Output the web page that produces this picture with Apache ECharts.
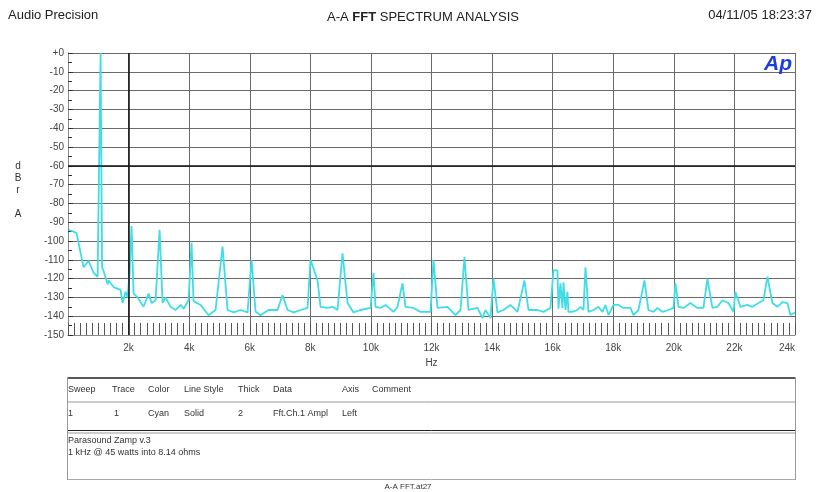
<!DOCTYPE html>
<html>
<head>
<meta charset="utf-8">
<script src="https://cdn.jsdelivr.net/npm/echarts@6/dist/echarts.min.js"></script>
<style>
html,body{margin:0;padding:0;background:#fff;}
#chart{width:817px;height:492px;}
</style>
</head>
<body>
<div id="chart"></div>
<script>
// ---- data ----
const freqHz = [20,185,284,515,680,845,977,1026,1076,1125,1175,1307,1340,1505,1736,1802,1901,1967,2033,2099,2165,2297,2495,2660,2759,2891,3023,3122,3221,3386,3551,3716,3815,3980,4079,4145,4376,4640,4871,5102,5267,5465,5696,5927,6059,6191,6356,6620,6917,7082,7248,7446,7677,7908,8007,8073,8238,8337,8568,8733,8898,9063,9228,9294,9426,9657,9987,10086,10152,10317,10482,10746,10878,11043,11142,11406,11637,11967,12066,12198,12528,12792,12957,13089,13221,13518,13683,13782,13947,14046,14178,14376,14607,14838,15069,15201,15498,15696,15927,16026,16158,16191,16257,16323,16356,16422,16488,16521,16653,16818,16917,17017,17083,17182,17347,17512,17644,17743,17842,18007,18172,18337,18568,18667,18832,19030,19162,19327,19459,19624,19822,19987,20053,20152,20317,20548,20779,20977,21109,21274,21439,21604,21802,21967,22033,22198,22429,22594,22792,22957,23089,23254,23419,23584,23749,23848,24000];
const levelDb = [-94,-95,-96,-114,-110.5,-117,-119,-118,0,-114,-116,-123,-121,-124.5,-126,-133,-127,-130,-117,-92,-128,-130,-135,-128,-133,-131.5,-94,-133,-130,-135,-136.7,-134,-136,-131.5,-101,-132,-134,-139.5,-136.7,-103,-136.7,-138,-136.7,-138,-110,-137.5,-139.5,-136.7,-136.7,-128.7,-136.7,-138,-136.7,-135.6,-110,-111,-121,-135,-135.6,-135,-136.7,-106.5,-133,-132.5,-138,-136.7,-135.6,-117,-135,-135.6,-134,-137.7,-135,-122.5,-135,-135.6,-137.7,-137.7,-110,-135.6,-135,-139.4,-136.7,-108.6,-136.7,-135.6,-141,-136.7,-141,-120,-138,-136.7,-134,-137.7,-121,-136.7,-136.7,-137.7,-135.6,-115.6,-115.6,-136,-122.5,-135.6,-122,-136.7,-127,-137.7,-137.7,-136.7,-135,-136.7,-114,-137.7,-136.7,-135,-137.7,-134,-139.4,-134,-134,-135.6,-135.6,-139.4,-136.7,-121,-136.7,-137.7,-135.6,-137.7,-136.7,-135.6,-122.5,-135,-135.6,-133,-135.6,-135.6,-120,-135.6,-135,-131.5,-133,-137.7,-127,-135,-134,-135,-133,-131.5,-119,-133,-135,-132.5,-133,-139.4,-138];

const headerLeft = 'Audio Precision';
const headerDate = '04/11/05 18:23:37';
const tableHead = ['Sweep','Trace','Color','Line Style','Thick','Data','Axis','Comment'];
const tableRow = ['1','1','Cyan','Solid','2','Fft.Ch.1 Ampl','Left',''];
const notes = ['Parasound Zamp v.3','1 kHz @ 45 watts into 8.14 ohms'];
const footer = 'A-A FFT.at27';
const yNameLetters = ['d','B','r','','A'];
const refX = [2000];
const refY = [-60];

const colX = [68,112,148,184,238,273,342,372];

const chart = echarts.init(document.getElementById('chart'), null, {renderer:'canvas'});
const FONT = 'Liberation Sans, Arial, sans-serif';

const graphics = [];
graphics.push({type:'text', left:8, top:9, style:{text:headerLeft, font:'13px '+FONT, fill:'#222'}});
graphics.push({type:'text', right:5, top:9, style:{text:headerDate, font:'13px '+FONT, fill:'#222'}});
graphics.push({type:'text', x:423, y:17, style:{
  text:'{n|A-A }{b|FFT}{n| SPECTRUM ANALYSIS}', align:'center', verticalAlign:'middle',
  rich:{n:{font:'13px '+FONT, fill:'#222'}, b:{font:'bold 13px '+FONT, fill:'#222'}}}});
// Ap logo
graphics.push({type:'text', x:792, y:64, z:10, style:{text:'Ap', font:'italic bold 21px '+FONT, fill:'#1c3fd8', align:'right', verticalAlign:'middle'}});
// y axis name
const yPos = [166,178,190,202,214];
yNameLetters.forEach((l,i)=>{ if(l) graphics.push({type:'text', x:18, y:yPos[i], style:{text:l, font:'10px '+FONT, fill:'#333', align:'center', verticalAlign:'middle'}}); });

// table lines
const L = 67.5, R = 795.5;
function hline(y, w, c){ graphics.push({type:'line', shape:{x1:L,y1:y,x2:R,y2:y}, style:{stroke:c, lineWidth:w}}); }
hline(378, 1.5, '#222');
hline(402, 1, '#999');
hline(430.5, 1, '#222');
hline(433, 1, '#999');
hline(479.5, 1, '#aaa');
graphics.push({type:'line', shape:{x1:L,y1:378,x2:L,y2:480}, style:{stroke:'#999', lineWidth:1}});
graphics.push({type:'line', shape:{x1:R,y1:378,x2:R,y2:480}, style:{stroke:'#999', lineWidth:1}});
tableHead.forEach((t,i)=>graphics.push({type:'text', x:colX[i], y:390, style:{text:t, font:'9px '+FONT, fill:'#333', verticalAlign:'middle'}}));
tableRow.forEach((t,i)=>{ if(t) graphics.push({type:'text', x:colX[i]+(i===1?2:0), y:414, style:{text:t, font:'9px '+FONT, fill:'#333', verticalAlign:'middle'}}); });
notes.forEach((t,i)=>graphics.push({type:'text', x:68, y:441+i*12, style:{text:t, font:'9px '+FONT, fill:'#333', verticalAlign:'middle'}}));
graphics.push({type:'text', x:408, y:487, style:{text:footer, font:'8px '+FONT, fill:'#333', align:'center', verticalAlign:'middle'}});

const option = {
  backgroundColor:'#fff',
  animation:false,
  grid:{left:68, top:53, width:727, height:282, containLabel:false},
  xAxis:{
    type:'value', min:0, max:24000, interval:2000, position:'bottom',
    name:'Hz', nameLocation:'middle', nameGap:23,
    nameTextStyle:{fontFamily:FONT, fontSize:10, color:'#444'},
    axisLine:{show:true, onZero:false, lineStyle:{color:'#888', width:1}},
    axisTick:{show:true, inside:true, length:12, lineStyle:{color:'#555', width:1}},
    minorTick:{show:true, splitNumber:10, length:12, lineStyle:{color:'#555', width:1}},
    axisLabel:{fontFamily:FONT, fontSize:10, color:'#444', margin:8, alignMaxLabel:'right',
      formatter:v=> v===0 ? '' : (v/1000)+'k'},
    splitLine:{show:true, lineStyle:{color:'#6a6a6a', width:1}}
  },
  yAxis:{
    type:'value', min:-150, max:0, interval:10,
    axisLine:{show:true, onZero:false, lineStyle:{color:'#888', width:1}},
    axisTick:{show:true, inside:true, length:5, lineStyle:{color:'#333'}},
    minorTick:{show:true, splitNumber:2, length:4, lineStyle:{color:'#333'}},
    axisLabel:{fontFamily:FONT, fontSize:10, color:'#444', margin:4,
      formatter:v=> v===0 ? '+0' : String(v)},
    splitLine:{show:true, lineStyle:{color:'#6a6a6a', width:1}}
  },
  graphic:graphics,
  series:[{
    type:'line',
    data:freqHz.map((f,i)=>[f, levelDb[i]]),
    showSymbol:false,
    clip:true,
    lineStyle:{color:'#3fdde6', width:1.8},
    markLine:{
      silent:true, symbol:'none', animation:false,
      label:{show:false},
      lineStyle:{color:'#111', width:1.5, type:'solid'},
      data:[...refX.map(v=>({xAxis:v})), ...refY.map(v=>({yAxis:v}))]
    },
    z:3
  }]
};
chart.setOption(option);
</script>
</body>
</html>
